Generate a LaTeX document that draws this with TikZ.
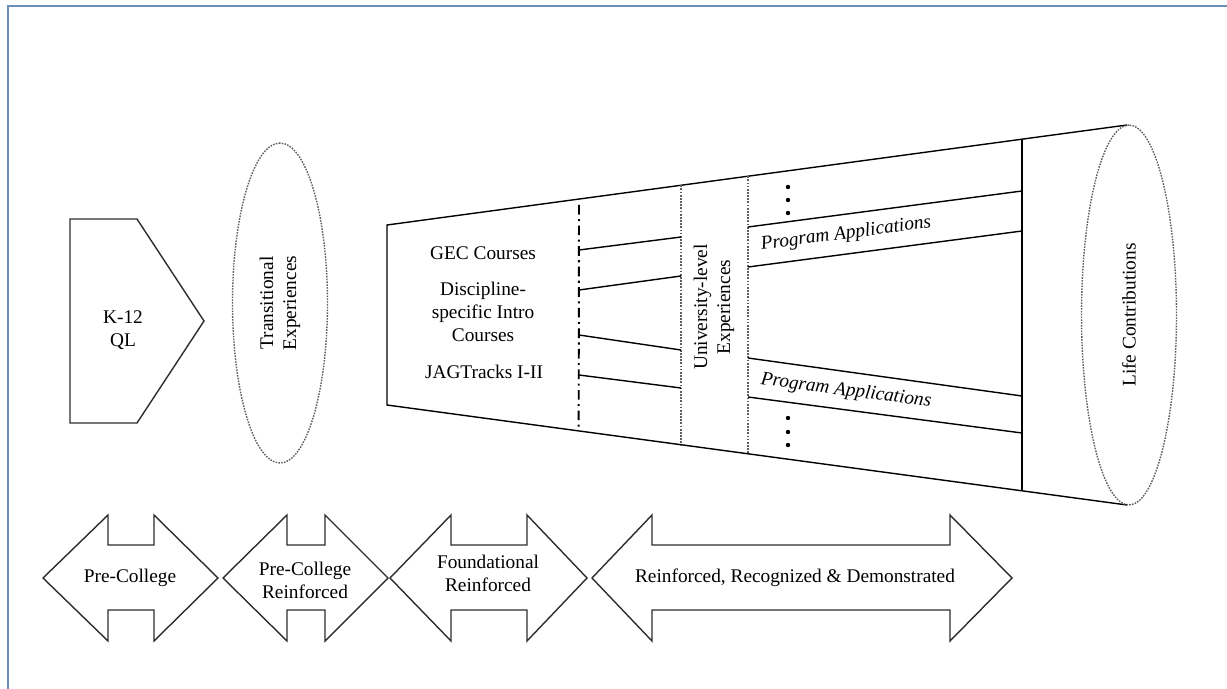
\documentclass[tikz,border=0pt]{standalone}
\usepackage{fontspec}
\setmainfont{Liberation Serif}
\usetikzlibrary{shapes.geometric,calc}
\definecolor{frline}{RGB}{108,142,184}
\definecolor{shedge}{RGB}{45,45,45}
\definecolor{dotedge}{RGB}{95,95,95}
\tikzset{
  lbl/.style={font=\fontsize{11}{13}\selectfont, align=center, inner sep=1pt},
  vlbl/.style={lbl, rotate=90},
  plbl/.style={lbl, font=\fontsize{11}{13}\selectfont\itshape},
  outl/.style={draw=shedge, line width=0.8pt, line join=miter},
  ell/.style={
    ellipse, draw=dotedge, dash pattern=on 0.9pt off 0.7pt, line width=0.8pt,
    inner sep=0pt, rotate=90, align=center,
    font=\fontsize{11}{13}\selectfont
  },
  fun/.style={draw=black, line width=0.8pt},
  sep/.style={draw=dotedge, dash pattern=on 1pt off 0.8pt, line width=0.9pt},
  dsep/.style={draw=black, line width=1.1pt, dash pattern=on 5.5pt off 2.5pt on 1.2pt off 2.5pt},
  vdot/.style={fill=black, draw=none}
}

\begin{document}
\begin{tikzpicture}[x=0.02cm,y=-0.02cm]
  \useasboundingbox (0,0) rectangle (1227,689);
  \draw[frline, line width=1.2pt] (8,689) -- (8,6) -- (1227,6);

  \draw[outl] (70,219) -- (137,219) -- (204,321) -- (137,423) -- (70,423) -- cycle;
  \node[lbl] (k12) at (123,330) {K-12\\QL};

  \node[ell, minimum width=6.4cm, minimum height=1.9cm] (trans) at (280,303)
    {Transitional\\Experiences};

  \coordinate (ftl) at (387,225);
  \coordinate (fbl) at (387,405);
  \coordinate (ftr) at (1127,125);
  \coordinate (fbr) at (1127,505);
  \draw[fun] (ftr) -- (ftl) -- (fbl) -- (fbr);
  \draw[fun] ($(ftl)!0.858!(ftr)$) -- ($(fbl)!0.858!(fbr)$);
  \draw[sep] ($(ftl)!0.397!(ftr)$) -- ($(fbl)!0.397!(fbr)$);
  \draw[sep] ($(ftl)!0.488!(ftr)$) -- ($(fbl)!0.488!(fbr)$);
  \draw[dsep] (579,205) -- ($(fbl)!0.259!(fbr)$);

  \draw[fun] (579,250) -- (681,237);
  \draw[fun] (579,290) -- (681,276);
  \draw[fun] (579,335) -- (681,350);
  \draw[fun] (579,375) -- (681,388);

  \draw[fun] (748,227) -- (1022,191);
  \draw[fun] (748,267) -- (1022,231);
  \draw[fun] (748,358) -- (1022,396);
  \draw[fun] (748,397) -- (1022,433);

  \node[lbl] (gec) at (483,253) {GEC Courses};
  \node[lbl] (disc) at (483,312) {Discipline-\\specific Intro\\Courses};
  \node[lbl] (jag) at (484,372) {JAGTracks I-II};
  \node[vlbl] (univ) at (714,307) {University-level\\Experiences};
  \node[plbl, rotate=7.5] (progup) at (846,234) {Program Applications};
  \node[plbl, rotate=-7.5] (proglo) at (846,391) {Program Applications};
  \foreach \yy in {187,200,213,418,432,445}
    \fill[vdot] (788,\yy) circle[radius=1.25pt];

  \node[ell, minimum width=7.6cm, minimum height=1.9cm] (life) at (1129,315)
    {Life Contributions};

  \draw[outl] (43,578) -- (108,515) -- (108,545) -- (154,545) -- (154,515) -- (218,578)
    -- (154,641) -- (154,610) -- (108,610) -- (108,641) -- cycle;
  \draw[outl] (223,578) -- (287,515) -- (287,545) -- (325,545) -- (325,515) -- (388,578)
    -- (325,641) -- (325,610) -- (287,610) -- (287,641) -- cycle;
  \draw[outl] (390,578) -- (451,515) -- (451,545) -- (527,545) -- (527,515) -- (587,578)
    -- (527,641) -- (527,610) -- (451,610) -- (451,641) -- cycle;
  \draw[outl] (592,578) -- (652,515) -- (652,545) -- (950,545) -- (950,515) -- (1012,578)
    -- (950,641) -- (950,610) -- (652,610) -- (652,641) -- cycle;

  \node[lbl] (prec) at (130,578) {Pre-College};
  \node[lbl] (precr) at (305,580) {Pre-College\\Reinforced};
  \node[lbl] (found) at (488,573) {Foundational\\Reinforced};
  \node[lbl] (rrd) at (795,578) {Reinforced, Recognized \& Demonstrated};
\end{tikzpicture}
\end{document}
